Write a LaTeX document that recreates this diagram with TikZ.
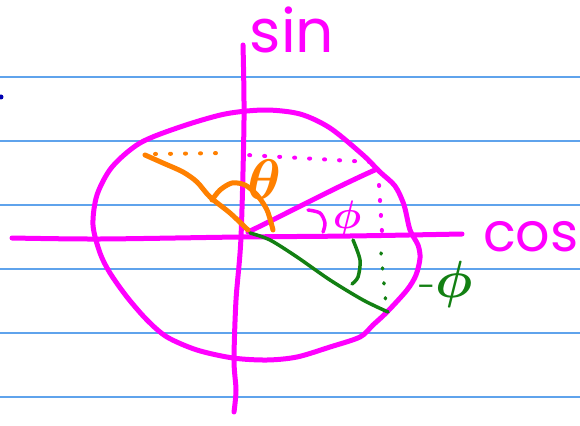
\documentclass[tikz,border=0pt]{standalone}
\usepackage{fontspec}
\newfontfamily\handfont{Poppins}
\usetikzlibrary{positioning}
\definecolor{penpink}{HTML}{FF00FF}
\definecolor{penorange}{HTML}{FF8000}
\definecolor{pengreen}{HTML}{138013}
\definecolor{rulerblue}{HTML}{5FA3EC}

\begin{document}
\begin{tikzpicture}[x=1pt, y=-1pt,
  ink/.style={line width=5pt, line cap=round, line join=round},
  thinink/.style={line width=3.5pt, line cap=round, line join=round},
  dots/.style={line width=4pt, line cap=round, dash pattern=on 1pt off 14pt},
  ruling/.style={rulerblue, line width=1.3pt},
  label/.style={inner sep=0pt, font=\Huge\boldmath},
]
  \useasboundingbox[fill=white] (0,0) rectangle (580,425);

  % paper lines
  \foreach \y in {77,141,205,269,333,397}
    \draw[ruling] (0,\y) -- (580,\y);
  \fill[blue!70!black] (1,97) circle (2.5pt);

  % circle
  \draw[ink, penpink] plot[smooth cycle, tension=0.5] coordinates {
    (265,110) (300,114) (330,128) (363,155) (380,172) (395,186) (404,205)
    (410,230) (418,245) (420,258) (416,275) (407,290) (387,312) (373,325)
    (360,337) (330,347) (297,357) (267,360) (233,358) (197,350) (167,337)
    (147,320) (127,297) (110,273) (100,253) (93,225) (97,195) (112,167)
    (140,143) (180,127) (225,114)};

  % axes
  \draw[ink, penpink] plot[smooth] coordinates {(12,238) (100,239) (240,237) (350,236) (462,234)};
  \draw[ink, penpink] plot[smooth] coordinates {(243,45) (244,120) (241,237) (236,300) (234,360) (236,390) (234,412)};
  \coordinate (o) at (248,232);

  \node[label, penpink, font=\handfont\fontsize{60}{60}\selectfont] (sin) at (292,30) {sin};
  \node[label, penpink, font=\handfont\fontsize{54}{54}\selectfont, anchor=west] (cos) at (483,237) {cos};

  % radius at phi
  \coordinate (p) at (377,169);
  \draw[ink, penpink] (o) .. controls (290,212) and (330,190) .. (p);
  \draw[dots, penpink] (370,162) -- (247,155);
  \draw[dots, penpink] (379,185) -- (382,232);
  \draw[thinink, penpink] plot[smooth] coordinates {(308,210) (320,213) (325,223) (323,232)};
  \node[label, penpink, scale=1.6] (phi) at (347,219) {$\phi$};

  % radius at theta
  \draw[ink, penorange] plot[smooth] coordinates {(248,230) (230,213) (210,197) (197,182) (183,172) (163,163) (145,155)};
  \draw[dots, penorange] (155,154) -- (225,153);
  \draw[ink, penorange] plot[smooth] coordinates {(212,200) (220,190) (232,183) (245,185) (257,195) (267,210) (273,230)};
  \node[label, penorange, scale=2.3] (theta) at (264,180) {$\theta$};

  % radius at -phi
  \coordinate (q) at (388,312);
  \draw[thinink, pengreen] plot[smooth] coordinates {(250,233) (270,240) (297,257) (330,280) (363,300) (q)};
  \draw[dots, pengreen, line width=3.5pt] (381,253) -- (386,304);
  \draw[thinink, pengreen] plot[smooth] coordinates {(353,240) (360,260) (358,277) (352,284)};
  \node[label, pengreen, scale=2.1] (mphi) at (446,284) {-$\phi$};
\end{tikzpicture}
\end{document}
